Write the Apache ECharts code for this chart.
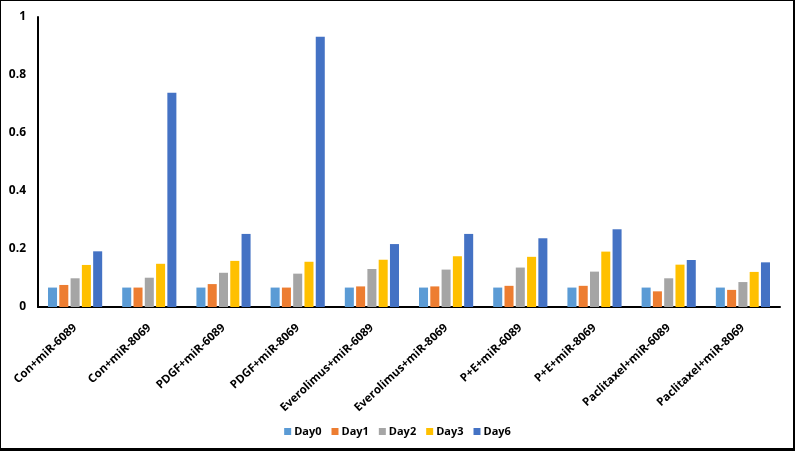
<!DOCTYPE html>
<html>
<head>
<meta charset="utf-8">
<script src="https://cdn.jsdelivr.net/npm/echarts@6/dist/echarts.min.js"></script>
<style>
html,body{margin:0;padding:0;background:#fff;}
#wrap{width:795px;height:451px;position:relative;}
#chart{position:absolute;left:0;top:0;width:795px;height:451px;}
#frame{position:absolute;left:0;top:0;width:795px;height:451px;box-sizing:border-box;border-top:1px solid #000;border-left:1px solid #000;border-right:2px solid #000;border-bottom:3px solid #000;pointer-events:none;}
</style>
</head>
<body>
<div id="wrap"><div id="chart"></div><div id="frame"></div></div>
<script>
const categories = ["Con+miR-6089","Con+miR-8069","PDGF+miR-6089","PDGF+miR-8069","Everolimus+miR-6089","Everolimus+miR-8069","P+E+miR-6089","P+E+miR-8069","Paclitaxel+miR-6089","Paclitaxel+miR-8069"];
const seriesNames = ["Day0","Day1","Day2","Day3","Day6"];
const day0 = [0.067,0.067,0.067,0.067,0.067,0.067,0.067,0.067,0.067,0.067];
const day1 = [0.076,0.067,0.079,0.067,0.071,0.071,0.073,0.073,0.054,0.059];
const day2 = [0.099,0.101,0.118,0.115,0.131,0.129,0.136,0.122,0.099,0.086];
const day3 = [0.145,0.149,0.159,0.156,0.163,0.175,0.173,0.191,0.146,0.121];
const day6 = [0.192,0.739,0.252,0.932,0.217,0.252,0.237,0.268,0.162,0.154];
const yTicks = [0,0.2,0.4,0.6,0.8,1];
const colors = ["#5B9BD5","#ED7D31","#A5A5A5","#FFC000","#4472C4"];
const values = [day0,day1,day2,day3,day6];

const chart = echarts.init(document.getElementById('chart'));
const font = '"Open Sans", "Liberation Sans", sans-serif';
chart.setOption({
  animation:false,
  backgroundColor:'#fff',
  textStyle:{fontFamily:font},
  color:colors,
  legend:{
    data:seriesNames,
    bottom:9,
    left:'center',
    itemWidth:7,itemHeight:7,itemGap:10,
    icon:'rect',
    textStyle:{fontSize:11,fontWeight:'bold',color:'#000',fontFamily:font,padding:[0,0,0,-2]}
  },
  grid:{left:38,right:15,top:17,bottom:144,containLabel:false},
  xAxis:{
    type:'category',
    data:categories,
    axisLine:{lineStyle:{color:'#000',width:2}},
    axisTick:{show:false},
    axisLabel:{rotate:43,interval:0,fontSize:11.5,fontWeight:'bold',color:'#000',margin:19,fontFamily:font}
  },
  yAxis:{
    type:'value',
    min:0,max:1,interval:0.2,
    axisLine:{show:true,lineStyle:{color:'#000',width:2}},
    axisTick:{show:false},
    splitLine:{show:false},
    axisLabel:{fontSize:12,fontWeight:'bold',color:'#000',margin:12,fontFamily:font,
      formatter:function(v){ return yTicks.indexOf(v)>=0 ? String(v) : ''; }}
  },
  series:values.map((d,i)=>({
    name:seriesNames[i],
    type:'bar',
    data:d,
    barGap:'25%',
    barCategoryGap:'27%'
  }))
});
</script>
</body>
</html>
